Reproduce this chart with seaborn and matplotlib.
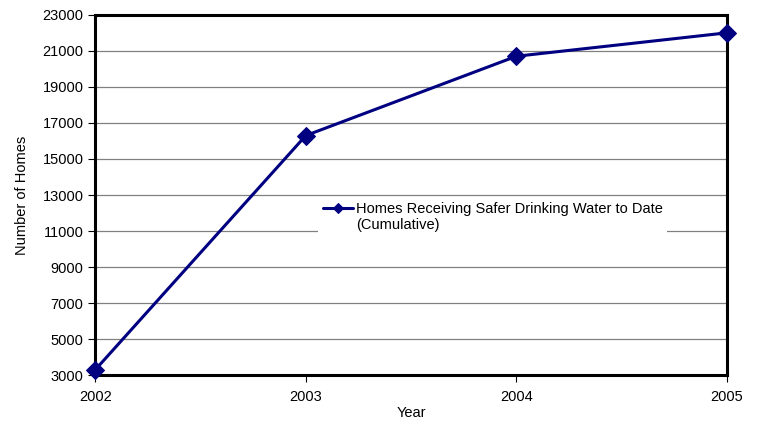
"""Cumulative homes receiving safer drinking water."""
import pandas as pd
import seaborn as sns
import matplotlib.pyplot as plt
from matplotlib.lines import Line2D
from matplotlib.legend_handler import HandlerLine2D

years = [2002, 2003, 2004, 2005]
homes = [3300, 16300, 20700, 22000]
series_label = 'Homes Receiving Safer Drinking Water to Date\n(Cumulative)'
y_ticks = list(range(3000, 23001, 2000))

df = pd.DataFrame({'Year': years, 'Homes': homes})


class FirstLineHandler(HandlerLine2D):
    # put the legend key next to the first line of a two-line label
    def create_artists(self, legend, orig_handle, xdescent, ydescent,
                       width, height, fontsize, trans):
        return super().create_artists(legend, orig_handle, xdescent, ydescent,
                                      width, height + 13, fontsize, trans)


sns.set_style('white')
plt.rcParams['font.family'] = ['Liberation Sans', 'DejaVu Sans']
plt.rcParams['font.size'] = 10.5
plt.rcParams['text.color'] = 'black'
plt.rcParams['axes.labelcolor'] = 'black'

fig, ax = plt.subplots(figsize=(7.62, 4.23), dpi=100)
fig.subplots_adjust(left=0.125, right=0.954, top=0.965, bottom=0.113)

for t in y_ticks[1:-1]:
    ax.axhline(t, color='#808080', lw=0.9, zorder=1)

sns.lineplot(data=df, x='Year', y='Homes', ax=ax, color='#000080',
             lw=2.2, marker='D', markersize=9, markeredgecolor='#000080',
             label=series_label, zorder=3, clip_on=False)

ax.set_xlim(2002, 2005)
ax.set_ylim(3000, 23000)
ax.set_xticks(years)
ax.set_yticks(y_ticks)
ax.set_xlabel('Year', labelpad=1)
ax.set_ylabel('Number of Homes', labelpad=10)
for s in ax.spines.values():
    s.set_linewidth(2.2)
    s.set_color('black')
ax.tick_params(axis='both', which='major', direction='out', length=5,
               width=0.8, colors='black', labelsize=10.5, bottom=True, left=True)
ax.tick_params(axis='x', pad=6)

leg = ax.legend(loc='upper left', bbox_to_anchor=(0.353, 0.494), frameon=True,
                fancybox=False, edgecolor='white', framealpha=1,
                handlelength=2.1, handletextpad=0.2, borderpad=0.3,
                borderaxespad=0, markerscale=0.6, fontsize=10.5,
                handler_map={Line2D: FirstLineHandler()})
leg.get_frame().set_linewidth(0)
leg.set_zorder(2)

fig.savefig('out.png', dpi=100)
plt.close(fig)
